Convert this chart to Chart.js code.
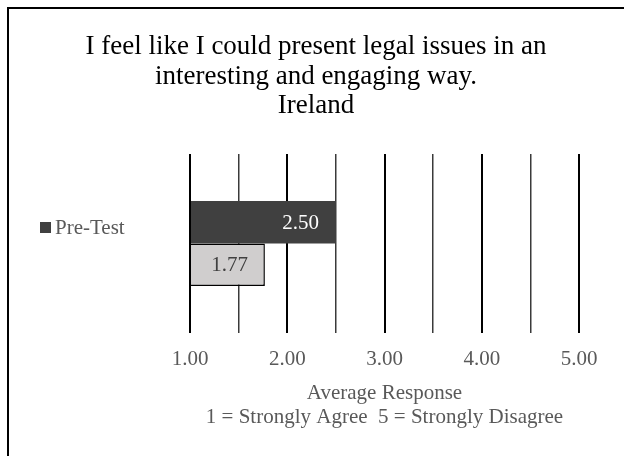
<!DOCTYPE html>
<html>
<head>
<meta charset="utf-8">
<script src="https://cdn.jsdelivr.net/npm/chart.js@4"></script>
<style>
  body { margin: 0; overflow: hidden; background: #fff; }
  #wrap { position: relative; width: 624px; height: 456px; }
  #frame { position: absolute; left: 7px; top: 7px; width: 700px; height: 600px;
           border: 2px solid #000; pointer-events: none; }
</style>
</head>
<body>
<div id="wrap">
  <canvas id="wykr" width="624" height="456"></canvas>
  <div id="frame"></div>
</div>
<script>
const titleLines = ['I feel like I could present legal issues in an', 'interesting and engaging way.', 'Ireland'];
const categories = [''];
const seriesNames = ['Pre-Test', 'Post-Test'];
const preTest = [2.50];
const postTest = [1.77];
const axisMin = 1;
const axisMax = 5;
const axisStep = 0.5;
const axisTitle = ['Average Response', '1 = Strongly Agree  5 = Strongly Disagree'];

const serif = '"Liberation Serif", "Times New Roman", serif';
const grey = '#595959';

// legend (only first entry is shown in the picture)
const legendPlugin = {
  id: 'sideLegend',
  afterDraw(chart) {
    const c = chart.ctx;
    const ds = chart.data.datasets[0];
    c.save();
    c.fillStyle = ds.backgroundColor;
    c.fillRect(40, 222, 11, 11);
    c.fillStyle = grey;
    c.font = '21px ' + serif;
    c.textBaseline = 'middle';
    c.textAlign = 'left';
    c.fillText(ds.label, 55, 228);
    c.restore();
  }
};

// value labels, inside end of each bar
const labelPlugin = {
  id: 'barLabels',
  afterDatasetsDraw(chart) {
    const c = chart.ctx;
    c.save();
    c.font = '21px ' + serif;
    c.textBaseline = 'middle';
    c.textAlign = 'right';
    chart.data.datasets.forEach((ds, i) => {
      chart.getDatasetMeta(i).data.forEach((bar, j) => {
        c.fillStyle = ds.labelColor;
        c.fillText(ds.data[j].toFixed(2), bar.x - 17, bar.y + 1);
      });
    });
    c.restore();
  }
};

new Chart(document.getElementById('wykr'), {
  type: 'bar',
  data: {
    labels: categories,
    datasets: [{
      label: seriesNames[0],
      data: preTest,
      base: axisMin,
      backgroundColor: '#404040',
      borderWidth: 0,
      labelColor: '#fff',
      categoryPercentage: 0.475,
      barPercentage: 1
    }, {
      label: seriesNames[1],
      data: postTest,
      base: axisMin,
      backgroundColor: '#d0cece',
      borderColor: '#000',
      borderWidth: 1.5,
      labelColor: '#404040',
      categoryPercentage: 0.475,
      barPercentage: 1
    }]
  },
  options: {
    indexAxis: 'y',
    responsive: false,
    animation: false,
    layout: { padding: { left: 8, right: 0, top: 0, bottom: 0 } },
    plugins: {
      legend: { display: false },
      tooltip: { enabled: false },
      title: {
        display: true,
        text: titleLines,
        color: '#000',
        font: { family: serif, size: 27, weight: 'normal', lineHeight: 1.1 },
        padding: { top: 32, bottom: 33 }
      }
    },
    scales: {
      x: {
        type: 'linear',
        min: axisMin,
        max: axisMax,
        position: 'bottom',
        afterFit: s => { s.height = 123; },
        ticks: {
          stepSize: axisStep,
          autoSkip: false,
          maxRotation: 0,
          padding: 14,
          color: grey,
          font: { family: serif, size: 21 },
          callback: v => (v % 1 === 0 ? v.toFixed(2) : '')
        },
        grid: {
          drawTicks: false,
          color: ctx => (ctx.tick && ctx.tick.value % 1 === 0 ? '#000' : '#3a3a3a'),
          lineWidth: ctx => (ctx.tick && ctx.tick.value % 1 === 0 ? 2 : 1.5)
        },
        border: { display: false },
        title: {
          display: true,
          text: axisTitle,
          color: grey,
          font: { family: serif, size: 21, lineHeight: 1.15 },
          padding: { top: 0, bottom: 26 }
        }
      },
      y: {
        position: 'left',
        afterFit: s => { s.width = 182; },
        ticks: { display: false },
        grid: { display: false },
        border: { display: false }
      },
      yRight: {
        type: 'linear',
        position: 'right',
        afterFit: s => { s.width = 45; },
        ticks: { display: false },
        grid: { display: false },
        border: { display: false }
      }
    }
  },
  plugins: [legendPlugin, labelPlugin]
});
</script>
</body>
</html>
